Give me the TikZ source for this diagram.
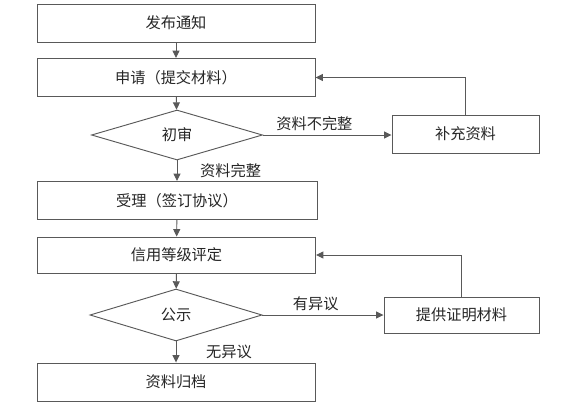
\documentclass[tikz,border=0pt]{standalone}
\usepackage{fontspec}
\newfontfamily\cjk{Noto Sans CJK SC}
\usetikzlibrary{shapes.geometric,arrows.meta}
\tikzset{
	txt/.style={text=black!85, font=\cjk\fontsize{13}{15}\selectfont},
	box/.style={txt, draw=black!65, line width=0.8pt, minimum width=8.34cm, minimum height=1.14cm, inner sep=0},
	sidebox/.style={box, minimum width=4.41cm},
	check/.style={txt, draw=black!65, line width=0.8pt, shape=diamond, minimum width=5.13cm, minimum height=1.5cm, inner sep=0},
	flow/.style={draw=black!65, line width=0.8pt, -{Triangle[length=2.2mm,width=2.1mm]}},
}
\begin{document}
\begin{tikzpicture}[x=0.03cm, y=-0.03cm]
		%%%%% START %%%%%
		\useasboundingbox (0, 0) rectangle (578, 411);
		
		\node[box] (fabu) at (176, 23) {发布通知};
		\node[box] (shenqing) at (176, 77.5) {申请（提交材料）};
		\node[check] (chushen) at (177, 135) {初审};
		\node[box, minimum width=8.4cm] (shouli) at (177, 200.5) {受理（签订协议）};
		\node[box, minimum height=1.08cm] (xinyong) at (176.5, 255) {信用等级评定};
		\node[check, minimum width=5.16cm, minimum height=1.56cm] (gongshi) at (176, 315) {公示};
		\node[box] (guidang) at (176, 382) {资料归档};
		
		\node[sidebox] (buchong) at (465.5, 134) {补充资料};
		\node[sidebox, minimum width=4.65cm, minimum height=1.08cm] (tigong) at (461.5, 315) {提供证明材料};
		
		\draw[flow] (fabu) -- (shenqing);
		\draw[flow] (shenqing) -- (chushen);
		\draw[flow] (chushen) -- node[txt, anchor=west, xshift=16] {资料完整} (shouli);
		\draw[flow] (shouli) -- (xinyong);
		\draw[flow] (xinyong) -- (gongshi);
		\draw[flow] (gongshi) -- node[txt, anchor=west, xshift=22] {无异议} (guidang);
		
		\draw[flow] (chushen.east) -- node[txt, above, pos=0.4] {资料不完整} (chushen.east -| buchong.west);
		\draw[flow] (buchong.north) |- (shenqing.east);
		\draw[flow] (gongshi.east) -- node[txt, above, pos=0.44] {有异议} (tigong.west);
		\draw[flow] (tigong.north) |- (xinyong.east);
		%%%%% END %%%%%
\end{tikzpicture}
\end{document}
